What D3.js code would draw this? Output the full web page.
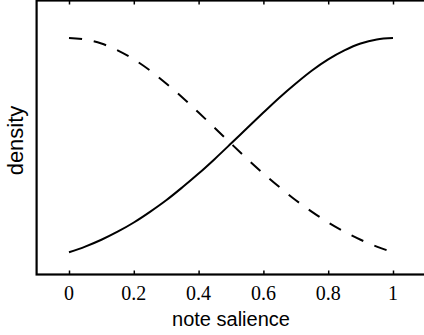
<!DOCTYPE html>
<html>
<head>
<meta charset="utf-8">
<script src="https://cdn.jsdelivr.net/npm/d3@7"></script>
<style>
  html, body { margin: 0; padding: 0; background: #fff; }
  svg { display: block; }
</style>
</head>
<body>
<div id="chart"></div>
<script>
// note salience sample points
const salience = [0, 0.05, 0.1, 0.15, 0.2, 0.25, 0.3, 0.35, 0.4, 0.45, 0.5,
  0.55, 0.6, 0.65, 0.7, 0.75, 0.8, 0.85, 0.9, 0.95, 1]
// solid curve (rising)
const risingDensity = [0.094, 0.118, 0.147, 0.181, 0.22, 0.265, 0.314, 0.369, 0.427, 0.489, 0.554,
  0.62, 0.685, 0.749, 0.808, 0.863, 0.91, 0.948, 0.977, 0.994, 1.0]
// dashed curve (falling)
const fallingDensity = [1.0, 0.994, 0.977, 0.948, 0.91, 0.863, 0.808, 0.749, 0.685, 0.62, 0.554,
  0.489, 0.427, 0.369, 0.314, 0.265, 0.22, 0.181, 0.147, 0.118, 0.094]
const xTicks = [0, 0.2, 0.4, 0.6, 0.8, 1]
const xTickLabels = ['0', '0.2', '0.4', '0.6', '0.8', '1']

const width = 424
const height = 335

const svg = d3.select('#chart')
  .append('svg')
  .attr('width', width)
  .attr('height', height)

const xScale = d3.scaleLinear().domain([-0.1, 1.1]).range([36.6, 425.4])
const yScale = d3.scaleLinear().domain([0, 1.159]).range([274.5, 0.5])

// axes box
const x0 = xScale.range()[0], x1 = xScale.range()[1]
const yb = yScale.range()[0], yt = yScale.range()[1]
svg.append('rect')
  .attr('x', x0).attr('y', yt)
  .attr('width', x1 - x0).attr('height', yb - yt)
  .attr('fill', 'none')
  .attr('stroke', '#000')
  .attr('stroke-width', 2.2)

// bottom ticks (inward)
svg.append('g')
  .attr('transform', `translate(0,${yb})`)
  .call(d3.axisBottom(xScale).tickValues(xTicks).tickSizeInner(-4).tickSizeOuter(0).tickFormat(''))
  .call((g) => g.select('.domain').remove())
  .call((g) => g.selectAll('line').attr('stroke-width', 1.5))

// top ticks (inward)
svg.append('g')
  .attr('transform', `translate(0,${yt})`)
  .call(d3.axisTop(xScale).tickValues(xTicks).tickSizeInner(-4).tickSizeOuter(0).tickFormat(''))
  .call((g) => g.select('.domain').remove())
  .call((g) => g.selectAll('line').attr('stroke-width', 1.5))

// tick labels
svg.append('g')
  .selectAll('text')
  .data(xTicks)
  .join('text')
  .attr('x', (d) => xScale(d))
  .attr('y', 300)
  .attr('text-anchor', 'middle')
  .attr('font-family', '"Liberation Serif", "Times New Roman", serif')
  .attr('font-size', 20)
  .text((d, i) => xTickLabels[i])

// curves
const line = (vals) => d3.line()
  .x((d, i) => xScale(salience[i]))
  .y((d) => yScale(d))
  .curve(d3.curveCatmullRom)(vals)

svg.append('path')
  .attr('d', line(risingDensity))
  .attr('fill', 'none')
  .attr('stroke', '#000')
  .attr('stroke-width', 2)

svg.append('path')
  .attr('d', line(fallingDensity))
  .attr('fill', 'none')
  .attr('stroke', '#000')
  .attr('stroke-width', 2)
  .attr('stroke-dasharray', '13,12')

// axis labels
svg.append('text')
  .attr('x', xScale(0.5))
  .attr('y', 326)
  .attr('text-anchor', 'middle')
  .attr('font-family', '"Liberation Sans", Arial, sans-serif')
  .attr('font-size', 20)
  .text('note salience')

svg.append('text')
  .attr('transform', `translate(23,140.5) rotate(-90)`)
  .attr('text-anchor', 'middle')
  .attr('font-family', '"Liberation Sans", Arial, sans-serif')
  .attr('font-size', 22)
  .text('density')
</script>
</body>
</html>
